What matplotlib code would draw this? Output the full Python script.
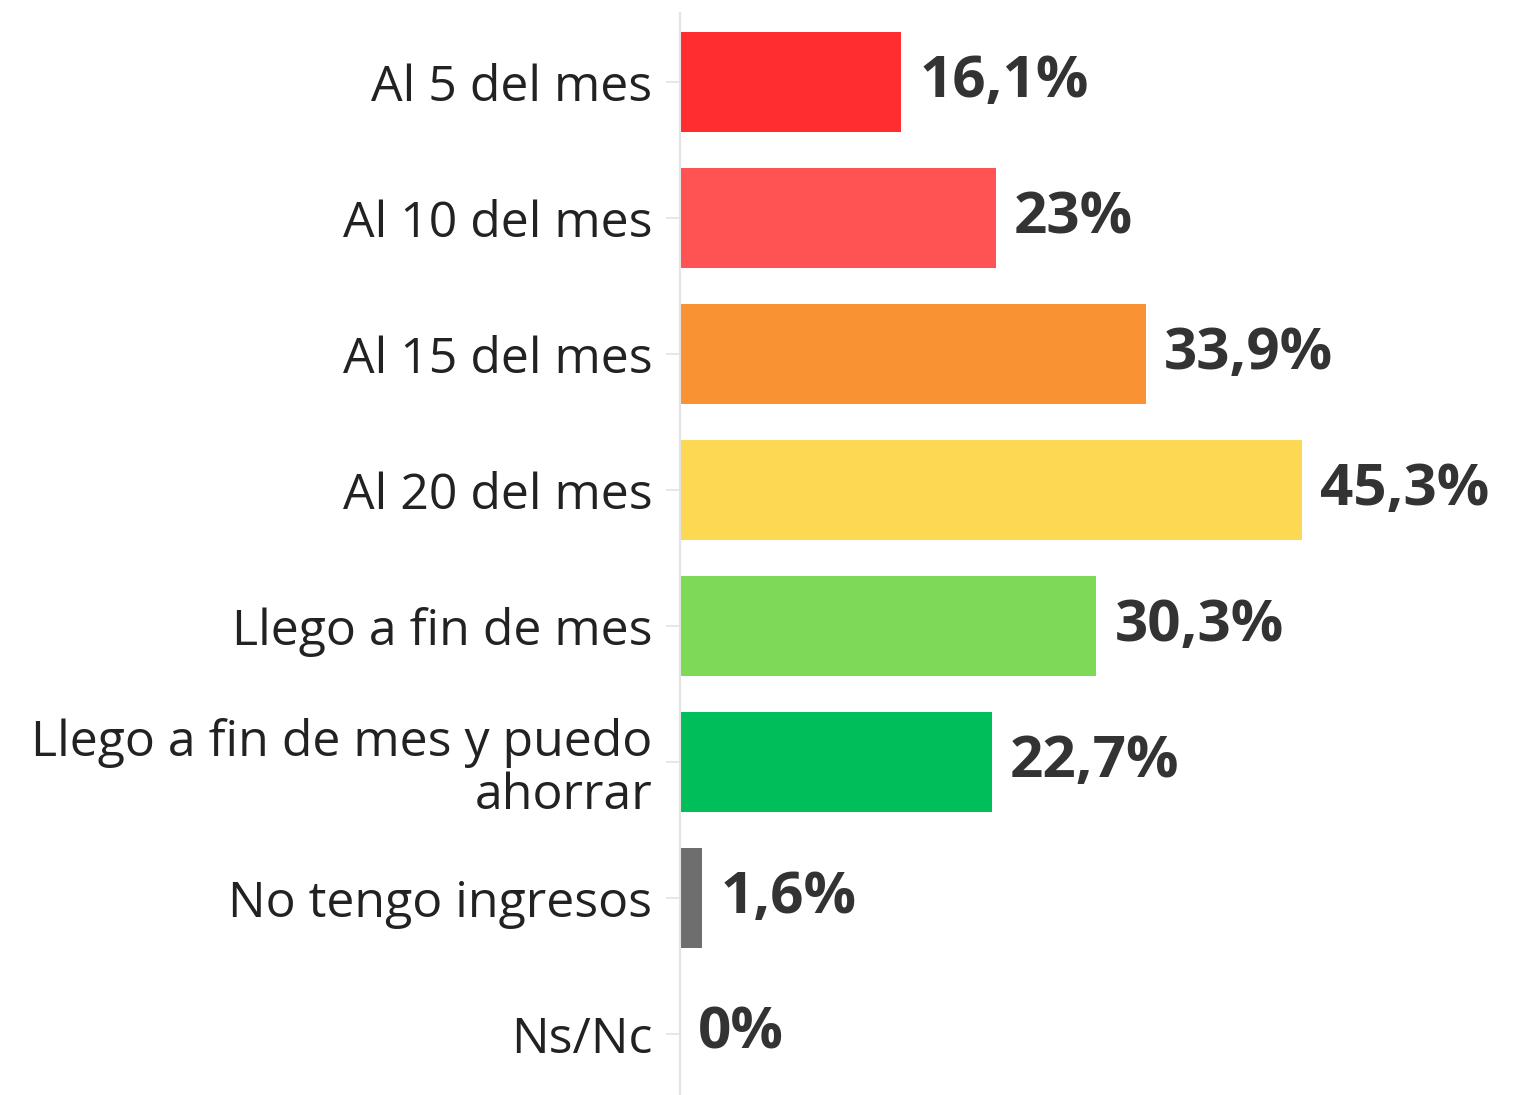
import matplotlib
matplotlib.use("Agg")
import matplotlib.pyplot as plt

categories = [
    "Al 5 del mes",
    "Al 10 del mes",
    "Al 15 del mes",
    "Al 20 del mes",
    "Llego a fin de mes",
    "Llego a fin de mes y puedo\nahorrar",
    "No tengo ingresos",
    "Ns/Nc",
]
values = [16.1, 23.0, 33.9, 45.3, 30.3, 22.7, 1.6, 0.0]
value_labels = ["16,1%", "23%", "33,9%", "45,3%", "30,3%", "22,7%", "1,6%", "0%"]
colors = ["#FF2D2F", "#FF5253", "#F99233", "#FDD853", "#7ED957", "#00BF5B", "#6E6E6E", "#6E6E6E"]

plt.rcParams["font.family"] = ["Open Sans", "DejaVu Sans"]

fig = plt.figure(figsize=(15.18, 10.95), dpi=100)
ax = fig.add_axes([0.448, 0.0, 0.552, 0.988])

y = list(range(len(categories)))
ax.barh(y, values, height=0.74, color=colors)

for yi, v, lab in zip(y, values, value_labels):
    ax.annotate(lab, (v, yi), xytext=(13, 0), textcoords="offset points",
                va="center", ha="left", fontsize=42, fontweight="bold", color="#333333")

ax.set_xlim(0, 61)
ax.set_ylim(len(categories) - 0.55, -0.507)
ax.set_yticks(y)
ax.set_yticklabels(categories, fontsize=36, color="#222222", linespacing=1.1)
ax.tick_params(axis="y", length=10, width=1.2, color="#e3e3e3", pad=10)
ax.set_xticks([])
for side in ["top", "right", "bottom"]:
    ax.spines[side].set_visible(False)
ax.spines["left"].set_color("#e3e3e3")
ax.spines["left"].set_linewidth(1.5)

fig.savefig("out.png", dpi=100)
